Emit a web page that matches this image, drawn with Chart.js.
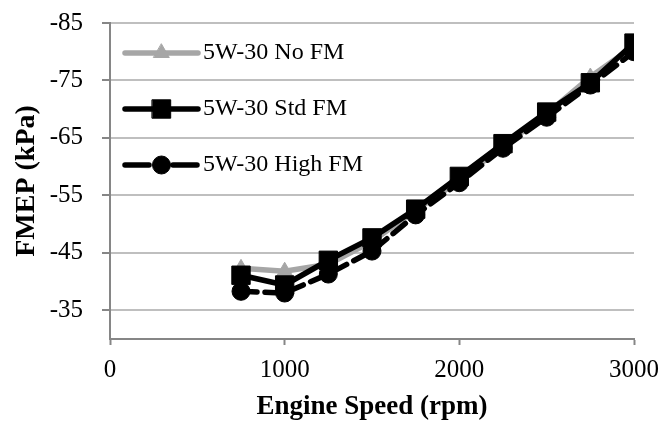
<!DOCTYPE html>
<html lang="en">
<head>
<meta charset="UTF-8">
<title>FMEP vs Engine Speed</title>
<script src="https://cdn.jsdelivr.net/npm/chart.js"></script>
<style>
  html, body { margin: 0; padding: 0; background: #fff; }
  #chartContainer { width: 665px; height: 422px; }
</style>
</head>
<body>
<div id="chartContainer"><canvas id="fmepChart" width="665" height="422"></canvas></div>
<script>
  // engine speed (rpm) and FMEP (kPa) per oil
  const speeds = [750, 1000, 1250, 1500, 1750, 2000, 2250, 2500, 2750, 3000];
  const noFm   = [-42.3, -41.8, -43.0, -47.0, -52.4, -57.6, -63.6, -69.2, -75.6, -81.0];
  const stdFm  = [-41.1, -39.4, -43.7, -47.6, -52.6, -58.3, -64.0, -69.5, -74.6, -81.5];
  const highFm = [-38.3, -38.0, -41.3, -45.3, -51.6, -57.2, -63.2, -68.6, -74.2, -80.0];
  const seriesNames = ['5W-30 No FM', '5W-30 Std FM', '5W-30 High FM'];
  const xTicks = [0, 1000, 2000, 3000];
  const yTicks = [-85, -75, -65, -55, -45, -35];

  const serif = "'Times New Roman', 'Liberation Serif', serif";
  const axisGray = '#868686';

  const toPoints = vals => vals.map((v, i) => ({ x: speeds[i], y: v }));

  // legend inside the plot: short line with the marker in the middle
  const lineLegend = {
    id: 'lineLegend',
    afterDatasetsDraw(chart) {
      const ctx = chart.ctx;
      const area = chart.chartArea;
      chart.data.datasets.forEach((ds, i) => {
        const y = area.top + 30 + i * 56;
        const x0 = area.left + 15;
        const x1 = x0 + 73;
        ctx.save();
        ctx.strokeStyle = ds.borderColor;
        ctx.lineWidth = ds.borderWidth;
        ctx.lineCap = 'round';
        ctx.setLineDash(ds.borderDash ? [24, 24] : []);
        ctx.beginPath();
        ctx.moveTo(x0, y);
        ctx.lineTo(x1, y);
        ctx.stroke();
        ctx.setLineDash([]);
        ctx.fillStyle = ds.pointBackgroundColor;
        ctx.strokeStyle = ds.pointBorderColor;
        ctx.lineWidth = ds.pointBorderWidth;
        Chart.helpers.drawPoint(ctx, {
          pointStyle: ds.pointStyle,
          radius: ds.pointRadius,
          rotation: 0,
          borderWidth: ds.pointBorderWidth
        }, (x0 + x1) / 2, y);
        ctx.fillStyle = '#000';
        ctx.font = '24px ' + serif;
        ctx.textBaseline = 'middle';
        ctx.textAlign = 'left';
        ctx.fillText(ds.label, x1 + 5, y);
        ctx.restore();
      });
    }
  };

  const ctx = document.getElementById('fmepChart').getContext('2d');
  const chart = new Chart(ctx, {
    type: 'line',
    data: {
      datasets: [
        {
          label: seriesNames[0],
          data: toPoints(noFm),
          borderColor: '#a6a6a6',
          borderWidth: 5.5,
          pointStyle: 'triangle',
          pointRadius: 9,
          pointBackgroundColor: '#a6a6a6',
          pointBorderColor: '#a6a6a6',
          pointBorderWidth: 1,
          order: 3
        },
        {
          label: seriesNames[1],
          data: toPoints(stdFm),
          borderColor: '#000',
          borderWidth: 5.5,
          pointStyle: 'rect',
          pointRadius: 13,
          pointBackgroundColor: '#000',
          pointBorderColor: '#000',
          pointBorderWidth: 1,
          order: 2
        },
        {
          label: seriesNames[2],
          data: toPoints(highFm),
          borderColor: '#000',
          borderWidth: 5.5,
          borderDash: [16, 8],
          borderCapStyle: 'round',
          pointStyle: 'circle',
          pointRadius: 9,
          pointBackgroundColor: '#000',
          pointBorderColor: '#000',
          pointBorderWidth: 1,
          order: 1
        }
      ]
    },
    options: {
      responsive: false,
      animation: false,
      devicePixelRatio: 1,
      layout: { padding: { left: 0, top: 23, right: 31, bottom: 0 } },
      plugins: {
        legend: { display: false },
        tooltip: { enabled: false }
      },
      scales: {
        x: {
          type: 'linear',
          min: 0,
          max: 3000,
          afterBuildTicks: scale => { scale.ticks = xTicks.map(v => ({ value: v })); },
          // fixed axis band; end labels may hang past the plot edges
          afterFit: scale => {
            scale.height = 83;
            scale.paddingLeft = 0;
            scale.paddingRight = 0;
          },
          ticks: {
            callback: v => String(v),
            color: '#000',
            padding: 10,
            font: { family: serif, size: 25 }
          },
          grid: {
            drawOnChartArea: false,
            drawTicks: true,
            tickLength: 6,
            tickColor: axisGray,
            tickWidth: 2
          },
          border: { color: axisGray, width: 2 },
          title: {
            display: true,
            text: 'Engine Speed (rpm)',
            color: '#000',
            font: { family: serif, size: 27, weight: 'bold', lineHeight: 1 },
            padding: { top: 0, bottom: 1 }
          }
        },
        y: {
          type: 'linear',
          reverse: true,
          min: -85,
          max: -30,
          afterBuildTicks: scale => { scale.ticks = yTicks.map(v => ({ value: v })); },
          afterFit: scale => {
            scale.width = 110;
            scale.paddingTop = 0;
            scale.paddingBottom = 0;
          },
          ticks: {
            callback: v => String(v),
            color: '#000',
            padding: 19,
            font: { family: serif, size: 25 }
          },
          grid: {
            color: '#bfbfbf',
            lineWidth: 2,
            tickLength: 8,
            tickColor: axisGray,
            tickWidth: 2
          },
          border: { color: axisGray, width: 2 },
          title: {
            display: true,
            text: 'FMEP (kPa)',
            color: '#000',
            font: { family: serif, size: 28, weight: 'bold', lineHeight: 1 },
            padding: { top: 13, bottom: 0 }
          }
        }
      }
    },
    plugins: [lineLegend]
  });
</script>
</body>
</html>
